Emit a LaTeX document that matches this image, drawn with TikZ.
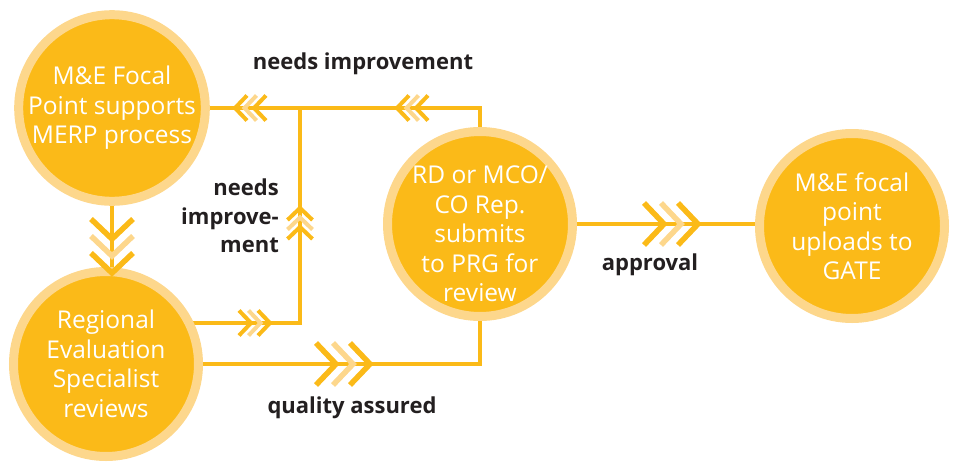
\documentclass[tikz,border=0pt]{standalone}
\usepackage{fontspec}
\setmainfont{Open Sans}
\definecolor{dk}{RGB}{251,186,24}
\definecolor{lt}{RGB}{253,215,140}
\definecolor{txt}{RGB}{35,31,32}
\pgfdeclarelayer{bg}
\pgfsetlayers{bg,main}
\tikzset{
  stage/.style={circle, fill=dk, draw=lt, line width=9pt, minimum size=185pt,
    inner sep=0pt, text=white, align=center, font=\fontsize{24.5}{29.5}\selectfont},
  stagetxt/.style={inner sep=0pt, text=white, align=center, font=\fontsize{24.5}{29.5}\selectfont},
  lbl/.style={text=txt, inner sep=0pt, font=\bfseries\fontsize{22}{28.5}\selectfont},
  conn/.style={draw=dk, line width=4pt},
  bigchev/.pic={
    \foreach \i/\c in {0/dk,1/lt,2/dk}{
      \draw[color=\c, line width=5.5pt] ({-34+\i*17-20},21) -- ({-34+\i*17},0) -- ({-34+\i*17-20},-21);
    }
  },
  smallchev/.pic={
    \foreach \i/\c in {0/dk,1/lt,2/dk}{
      \draw[color=\c, line width=4pt] ({-19+\i*9.5-12},12.5) -- ({-19+\i*9.5},0) -- ({-19+\i*9.5-12},-12.5);
    }
  },
}
\begin{document}
\begin{tikzpicture}[x=1pt,y=-1pt]
\useasboundingbox (0,0) rectangle (954,461);
% stages
\node[stage] (c1) at (112,108) {M\&E Focal\\Point supports\\MERP process};
\node[stage] (c2) at (106,364) {Regional\\Evaluation\\Specialist\\reviews};
\node[stage] (c3) at (480,224) {};
\node[stagetxt] (t3) at ([yshift=-10pt]c3.center) {RD or MCO/\\CO Rep.\\submits\\to PRG for\\review};
\node[stage] (c4) at (852,226) {M\&E focal\\point\\uploads to\\GATE};
% junctions
\coordinate (j1) at (300,108);
\coordinate (j2) at (300,323);
% connectors
\begin{pgfonlayer}{bg}
\draw[conn] (c1) -- (c1 |- c2);
\draw[conn] (c3) -- (c3 |- c1) -- (c1);
\draw[conn] (j1) -- (j2) -- (j2 -| c2);
\draw[conn] (c2) -- (c2 -| c3) -- (c3);
\draw[conn] (c3) -- (c3 -| c4);
\end{pgfonlayer}
% chevrons
\pic[rotate=-90] at (112,273) {bigchev};
\pic at (370,364) {bigchev};
\pic at (698,224) {bigchev};
\pic[rotate=180] at (235,108) {smallchev};
\pic[rotate=180] at (397,108) {smallchev};
\pic[rotate=90] at (300,208) {smallchev};
\pic at (270,323) {smallchev};
% labels
\node[lbl] (l1) at (363,64) {needs improvement};
\node[lbl, align=right, anchor=east] (l2) at (279,216) {needs\\improve-\\ment};
\node[lbl] (l3) at (352,408) {quality assured};
\node[lbl] (l4) at (650,265) {approval};
\end{tikzpicture}
\end{document}
